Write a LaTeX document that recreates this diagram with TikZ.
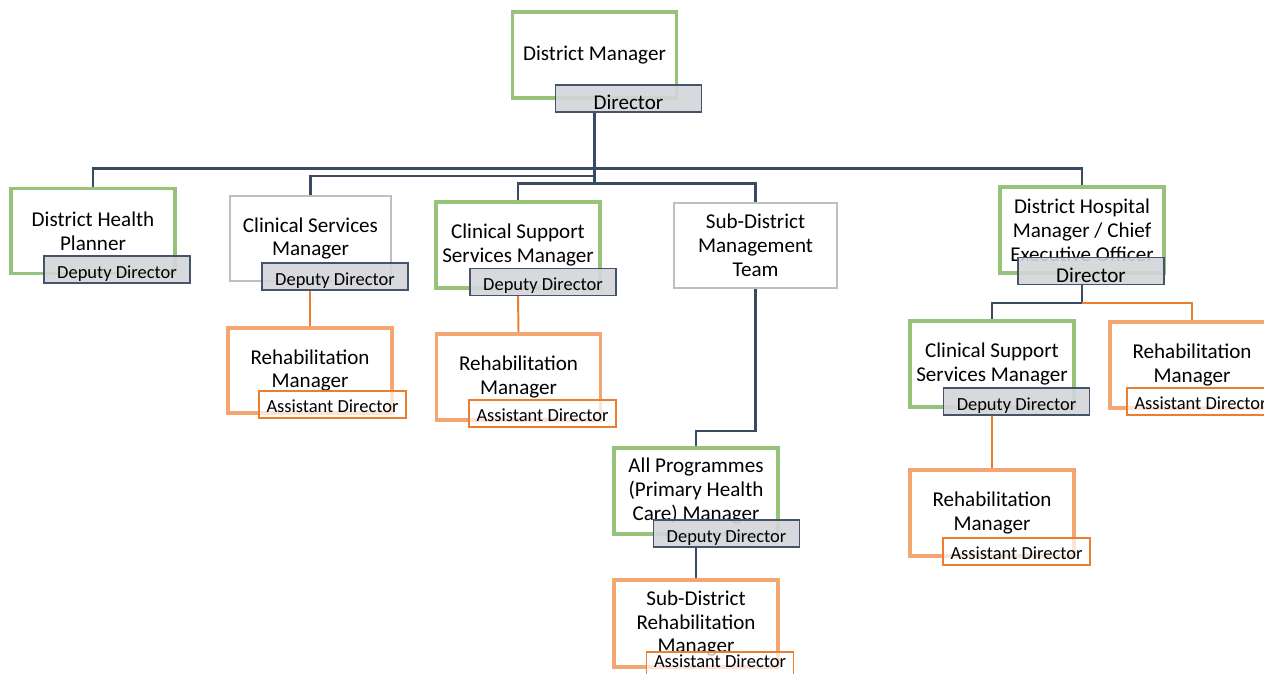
\documentclass[tikz,border=0pt]{standalone}
\usepackage{fontspec}
\setmainfont{Carlito}
\usepackage{xcolor}
\usepackage{tikz}
\definecolor{OCGreen}{HTML}{97C27A}
\definecolor{OCOrange}{HTML}{F3A672}
\definecolor{OCDeep}{HTML}{ED7D31}
\definecolor{OCGrey}{HTML}{BFBFBF}
\definecolor{OCTag}{HTML}{D3D5D9}
\definecolor{OCSlate}{HTML}{44546A}
\definecolor{OCLink}{HTML}{3A4A62}

\begin{document}
\begin{tikzpicture}[x=0.02cm,y=-0.02cm,
  post/.style={draw,line width=2.2pt,fill=white,minimum width=3.28cm,minimum height=1.7cm,
    align=center,inner sep=0pt,font=\fontsize{12}{13.6}\selectfont},
  greenpost/.style={post,draw=OCGreen},
  greypost/.style={post,draw=OCGrey,line width=1.3pt},
  rehabpost/.style={post,draw=OCOrange},
  tag/.style={draw=OCSlate,fill=OCTag,fill opacity=.9,text opacity=1,line width=.7pt,
    minimum width=2.92cm,minimum height=.54cm,inner sep=0pt,text height=.34cm,text depth=0pt,
    font=\fontsize{10.5}{12}\selectfont},
  dirtag/.style={tag,text height=.45cm,font=\fontsize{12}{13.6}\selectfont},
  asst/.style={draw=OCDeep,fill=white,fill opacity=.7,text opacity=1,line width=1.1pt,
    minimum width=2.94cm,minimum height=.54cm,inner sep=0pt,text height=.3cm,text depth=0pt,
    font=\fontsize{10.5}{12}\selectfont},
  link/.style={OCLink,line width=1.4pt},
  olink/.style={OCDeep,line width=1.1pt}]
\path[use as bounding box] (0,0) rectangle (1264,673);
\fill[white] (0,0) rectangle (1264,673);

\node[greenpost,minimum height=1.72cm] (dm) at (594.5,55) {District Manager};
\node[dirtag] (dmtag) at (628.5,98.5) {Director};

\node[greenpost] (dhp) at (93,231) {District Health\\Planner};
\node[tag] (dhptag) at (117,269.5) {Deputy Director};

\node[greypost,minimum width=3.22cm] (csm) at (310.5,238.5) {Clinical Services\\Manager};
\node[tag] (csmtag) at (335,276.5) {Deputy Director};

\node[rehabpost] (rm1) at (310,370.5) {Rehabilitation\\Manager};
\node[asst] (rm1tag) at (332.5,404.5) {Assistant Director};

\node[greenpost,minimum height=1.72cm] (css) at (518,245) {Clinical Support\\Services Manager};
\node[tag] (csstag) at (543,282) {Deputy Director};

\node[rehabpost,minimum height=1.72cm] (rm2) at (518.5,377) {Rehabilitation\\Manager};
\node[asst] (rm2tag) at (542.5,413.5) {Assistant Director};

\node[greypost,minimum width=3.26cm] (sdmt) at (755.5,245.5) {Sub-District\\Management\\Team};

\node[greenpost,minimum height=1.72cm] (apm) at (696,491) {All Programmes\\(Primary Health\\Care) Manager};
\node[tag] (apmtag) at (726.5,533.5) {Deputy Director};

\node[rehabpost,minimum height=1.74cm] (sdrm) at (696,623.5) {Sub-District\\Rehabilitation\\Manager};
\node[asst,text height=.08cm] (sdrmtag) at (720,665.5) {Assistant Director};

\node[greenpost,minimum height=1.72cm] (dhm) at (1082,230) {District Hospital\\Manager / Chief\\Executive Officer};
\node[dirtag] (dhmtag) at (1091,271) {Director};

\node[greenpost,minimum height=1.72cm] (css2) at (992,364) {Clinical Support\\Services Manager};
\node[tag] (css2tag) at (1016.5,401.5) {Deputy Director};

\node[rehabpost,minimum height=1.72cm] (rm3) at (1192,365) {Rehabilitation\\Manager};
\node[asst] (rm3tag) at (1200.5,401.5) {Assistant Director};

\node[rehabpost,minimum height=1.72cm] (rm4) at (992,513) {Rehabilitation\\Manager};
\node[asst] (rm4tag) at (1016.5,551.5) {Assistant Director};

\draw[link] (dmtag.south -| dm.south) -- ++(0,71) coordinate (hub);
\draw[link] (dhp.north) -- ++(0,-18) -| (dhm.north);
\draw[link] (csm.north) -- ++(0,-19) -| (hub);
\draw[link] (css.north) |- (hub) -| (sdmt.north);
\draw[link] (sdmt.south) -- ++(0,142) -| (apm.north);
\draw[link] (apmtag.south -| apm.south) -- (sdrm.north);
\draw[link] (dhmtag.south -| dhm.south) -- ++(0,18) -| (css2.north);
\draw[olink] (dhmtag.south -| dhm.south) ++(0,18) -| (rm3.north);
\draw[olink] (csmtag.south -| rm1.north) -- (rm1.north);
\draw[olink] (csstag.south -| css.south) -- (rm2.north);
\draw[olink] (css2tag.south -| css2.south) -- (rm4.north);
\end{tikzpicture}
\end{document}
